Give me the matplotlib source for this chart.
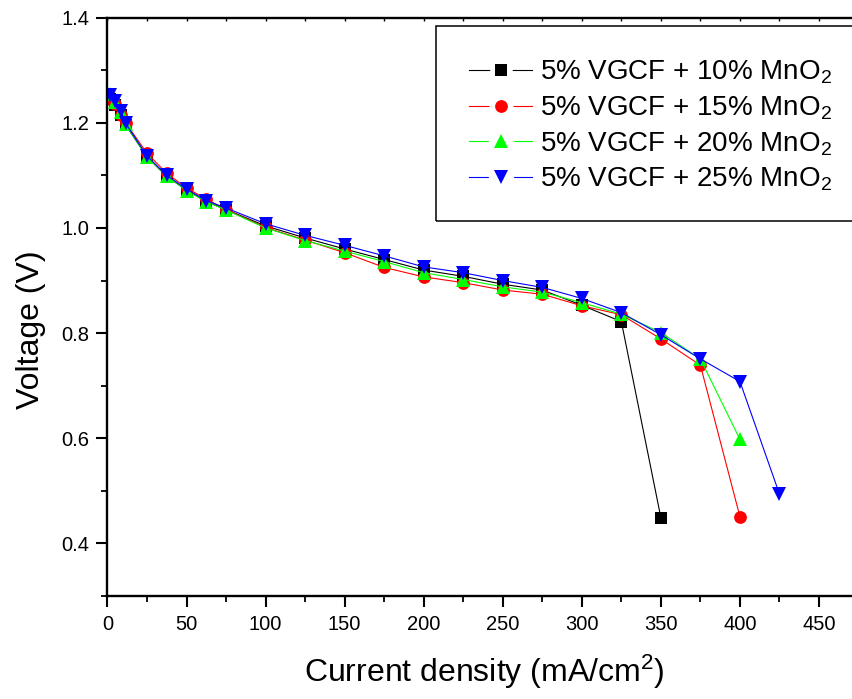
import matplotlib
matplotlib.use("Agg")
import matplotlib.pyplot as plt
from matplotlib.lines import Line2D
from matplotlib.patches import Rectangle
from matplotlib.legend_handler import HandlerTuple
from matplotlib.ticker import MultipleLocator, FixedLocator

plt.rcParams['font.family'] = ['Liberation Sans', 'DejaVu Sans']
plt.rcParams['mathtext.fontset'] = 'custom'
plt.rcParams['mathtext.rm'] = 'Liberation Sans'
plt.rcParams['mathtext.default'] = 'regular'

# Current density (mA/cm^2) and cell voltage (V) for each cathode mix
current = [1.5, 5, 8.5, 11.5, 25, 37.5, 50, 62.5, 75, 100, 125, 150, 175,
           200, 225, 250, 275, 300, 325, 350, 375, 400, 425]

v_mno2_10 = [1.246, 1.233, 1.215, 1.196, 1.135, 1.098, 1.072, 1.050, 1.035,
             1.004, 0.981, 0.960, 0.940, 0.920, 0.908, 0.893, 0.882, 0.853,
             0.822, 0.449]
v_mno2_15 = [1.245, 1.235, 1.215, 1.200, 1.142, 1.104, 1.076, 1.055, 1.035,
             1.001, 0.977, 0.953, 0.925, 0.907, 0.896, 0.882, 0.874, 0.852,
             0.835, 0.789, 0.739, 0.451]
v_mno2_20 = [1.255, 1.240, 1.220, 1.197, 1.135, 1.099, 1.071, 1.050, 1.034,
             1.000, 0.976, 0.956, 0.936, 0.915, 0.902, 0.888, 0.878, 0.858,
             0.836, 0.801, 0.751, 0.598]
v_mno2_25 = [1.253, 1.241, 1.222, 1.199, 1.137, 1.100, 1.074, 1.052, 1.038,
             1.008, 0.986, 0.967, 0.947, 0.926, 0.915, 0.900, 0.887, 0.866,
             0.839, 0.797, 0.751, 0.708, 0.494]

labels = ['5% VGCF + 10% MnO$_2$', '5% VGCF + 15% MnO$_2$',
          '5% VGCF + 20% MnO$_2$', '5% VGCF + 25% MnO$_2$']
series = [v_mno2_10, v_mno2_15, v_mno2_20, v_mno2_25]
colors = ['#000000', '#ff0000', '#00ff00', '#0000ff']
markers = ['s', 'o', '^', 'v']
msizes = [8.2, 9.2, 10.2, 10.2]

x_ticks = [0, 50, 100, 150, 200, 250, 300, 350, 400, 450]
y_ticks = [0.4, 0.6, 0.8, 1.0, 1.2, 1.4]

W, H = 852, 699
fig = plt.figure(figsize=(W / 100, H / 100), dpi=100)
left, right, top, bottom = 107.5, 858.5, 17.7, 596.0
ax = fig.add_axes([left / W, (H - bottom) / H, (right - left) / W, (bottom - top) / H])

for v, c, m, ms in zip(series, colors, markers, msizes):
    ax.plot(current[:len(v)], v, color=c, lw=0.8, marker=m, ms=ms,
            mfc=c, mec=c, mew=0.0)

ax.set_xlim(0, 475)
ax.set_ylim(0.3, 1.4)
ax.xaxis.set_major_locator(FixedLocator(x_ticks))
ax.xaxis.set_minor_locator(MultipleLocator(25))
ax.yaxis.set_major_locator(FixedLocator(y_ticks))
ax.yaxis.set_minor_locator(FixedLocator([0.3, 0.5, 0.7, 0.9, 1.1, 1.3]))
ax.set_xticklabels([str(t) for t in x_ticks])
ax.set_yticklabels(['%.1f' % t for t in y_ticks])

for s in ax.spines.values():
    s.set_linewidth(1.7)

ax.tick_params(axis='both', which='major', direction='out', length=7.6,
               width=1.5, labelsize=14.5, bottom=True, left=True)
ax.tick_params(axis='both', which='minor', direction='out', length=4.3,
               width=1.3, bottom=True, left=True)
ax.tick_params(axis='x', which='major', pad=6.0)
ax.tick_params(axis='y', which='major', pad=5.5)
ax.tick_params(axis='x', which='both', top=True)
# short inward ticks on the top axis
for tl in ax.xaxis.get_major_ticks() + ax.xaxis.get_minor_ticks():
    tl.tick2line.set_marker(3)  # TICKDOWN
    tl.tick2line.set_markersize(2.5)
    tl.tick2line.set_markeredgewidth(1.0)

ax.set_xlabel('Current density (mA/cm$^2$)', fontsize=23, va='baseline')
ax.xaxis.set_label_coords((484 - left) / (right - left), -(682 - bottom) / (bottom - top))
ax.set_ylabel('Voltage (V)', fontsize=23, va='baseline')
ax.yaxis.set_label_coords((39 - left) / (right - left), (bottom - 330) / (bottom - top))

# legend: line - symbol - line, with the line broken around the symbol
handles = []
for c, m, ms in zip(colors, markers, msizes):
    gap = Line2D([], [], color=c, lw=0.8, marker='o', ms=ms + 8,
                 mfc='white', mec='white', mew=0)
    sym = Line2D([], [], ls='none', marker=m, ms=ms, mfc=c, mec=c, mew=0)
    handles.append((gap, sym))
leg = fig.legend(handles, labels, loc='center left', frameon=False,
                 bbox_to_anchor=(469 / W, 1 - 125.9 / H), fontsize=20,
                 borderpad=0, handlelength=2.27, handletextpad=0.29,
                 labelspacing=0.3, numpoints=1, borderaxespad=0,
                 handler_map={tuple: HandlerTuple(ndivide=1, pad=0)})
fig.patches.append(Rectangle((436 / W, 1 - 221 / H), (862 - 436) / W, (221 - 26) / H,
                             transform=fig.transFigure, fill=False,
                             edgecolor='black', lw=1.1, zorder=1))

fig.savefig('out.png', dpi=100)
